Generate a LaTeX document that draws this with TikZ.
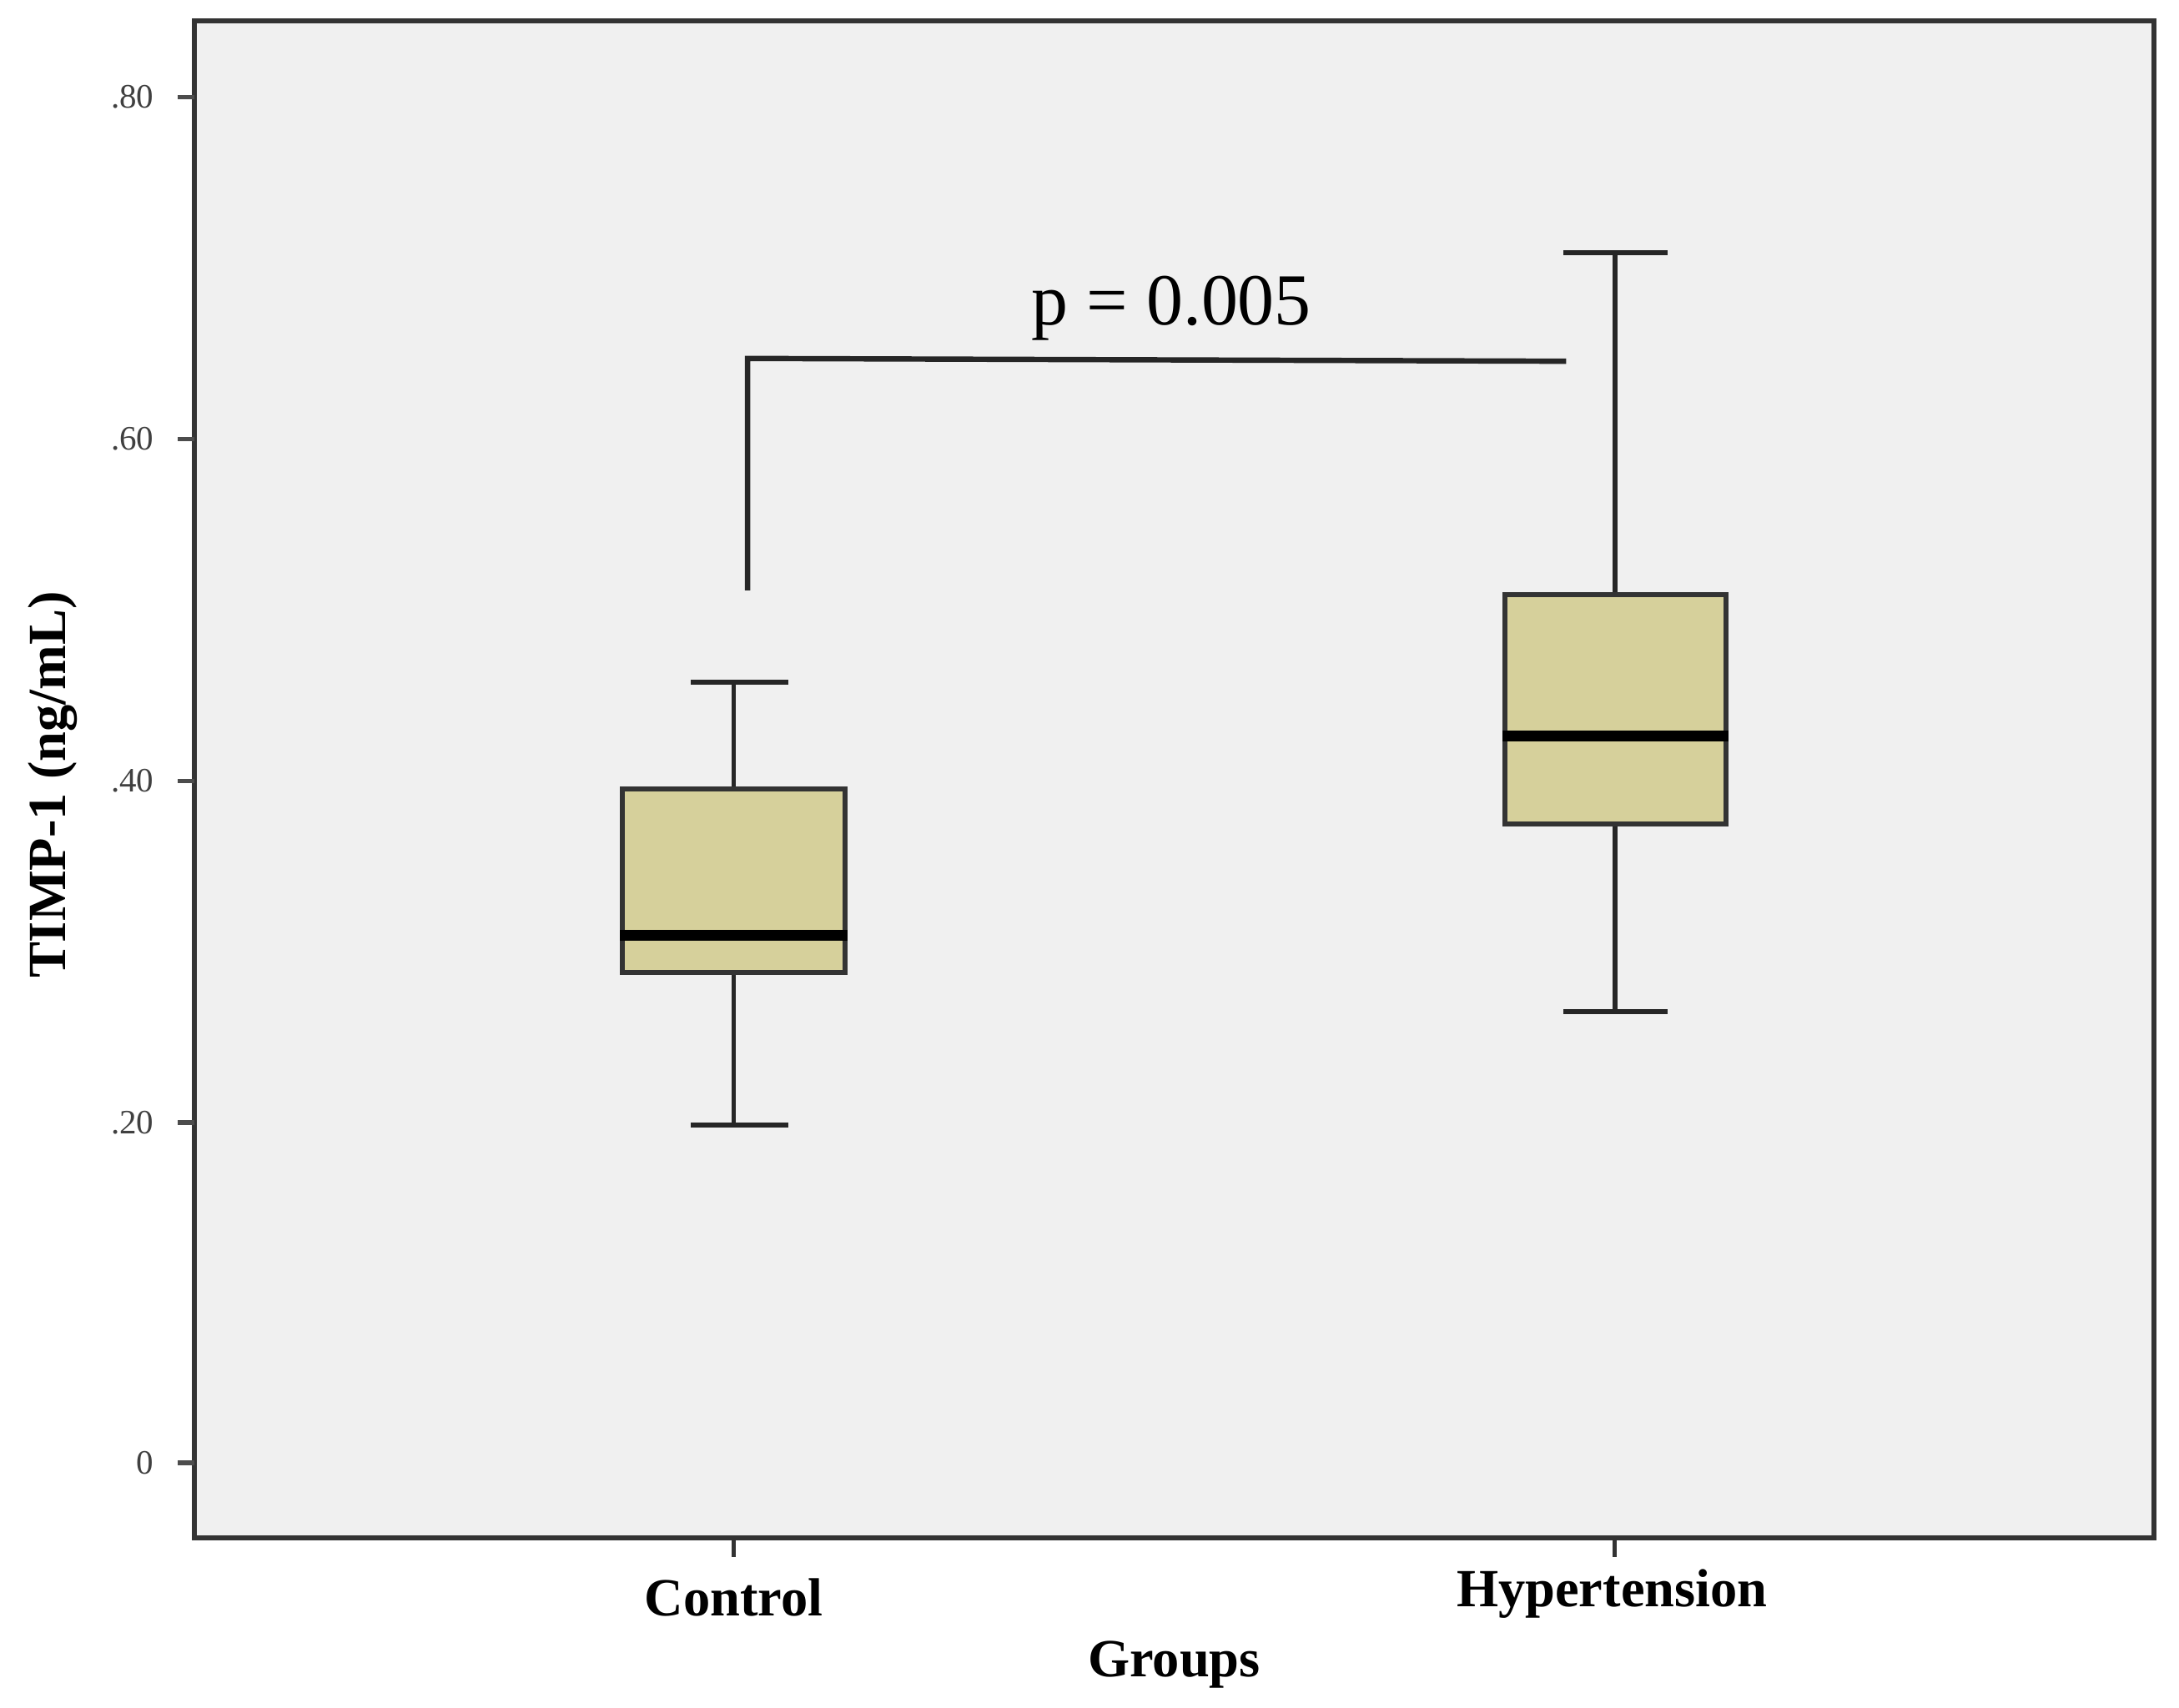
\documentclass[tikz,border=0pt]{standalone}
\usepackage{fontspec}
\setmainfont{Liberation Serif}
\definecolor{bg}{HTML}{F0F0F0}
\definecolor{boxc}{HTML}{D6D09B}
\begin{document}
\begin{tikzpicture}[x=0.01cm,y=-0.01cm,line width=0.9pt,
  bx/.style={draw=black!80,fill=boxc,line width=1pt},
  med/.style={line width=2.2pt},
  wh/.style={line width=1pt,draw=black!85},
  lab/.style={font=\bfseries\fontsize{11}{13}\selectfont},
  tl/.style={font=\fontsize{7}{8}\selectfont,anchor=east,text=black!75}]
\useasboundingbox (0,0) rectangle (1568,1229);
\fill[white] (0,0) rectangle (1568,1229);
\draw[fill=bg,draw=black!80,line width=1.1pt] (140,15) rectangle (1550,1107);
% y ticks
\foreach \v/\y in {0/1053,.20/808,.40/562,.60/316,.80/70}{
  \draw[black!70] (128,\y) -- (140,\y);
  \node[tl] at (124,\y) {\v};
}
% x ticks
\draw[black!80] (528,1107) -- (528,1121);
\draw[black!80] (1162,1107) -- (1162,1121);
% Control
\draw[wh] (528,491) -- (528,568);
\draw[wh] (528,700) -- (528,810);
\draw[wh] (497,491) -- (567,491);
\draw[wh] (497,810) -- (567,810);
\node[bx,minimum width=1.6cm,minimum height=1.32cm,inner sep=0] (c) at (528,634) {};
\draw[med] (c.west |- 0,673) -- (c.east |- 0,673);
% Hypertension
\draw[wh] (1162,182) -- (1162,428);
\draw[wh] (1162,593) -- (1162,728);
\draw[wh] (1125,182) -- (1200,182);
\draw[wh] (1125,728) -- (1200,728);
\node[bx,minimum width=1.59cm,minimum height=1.65cm,inner sep=0] (h) at (1162.5,510.5) {};
\draw[med] (h.west |- 0,530) -- (h.east |- 0,530);
% bracket
\coordinate (b1) at (538,425);
\coordinate (b2) at (538,258);
\coordinate (b3) at (1127,260);
\draw[line width=1.1pt,black!85] (b1) -- (b2) -- (b3);
\node[font=\fontsize{15}{17}\selectfont] (p) at (843,222) {p = 0.005};
% labels
\node[lab] (xc) at (528,1150) {Control};
\node[lab] (xh) at (1160,1147) {Hypertension};
\node[lab] (xg) at (845,1198) {Groups};
\node[lab,rotate=90] (yl) at (38,565) {TIMP-1 (ng/mL)};
\end{tikzpicture}
\end{document}
